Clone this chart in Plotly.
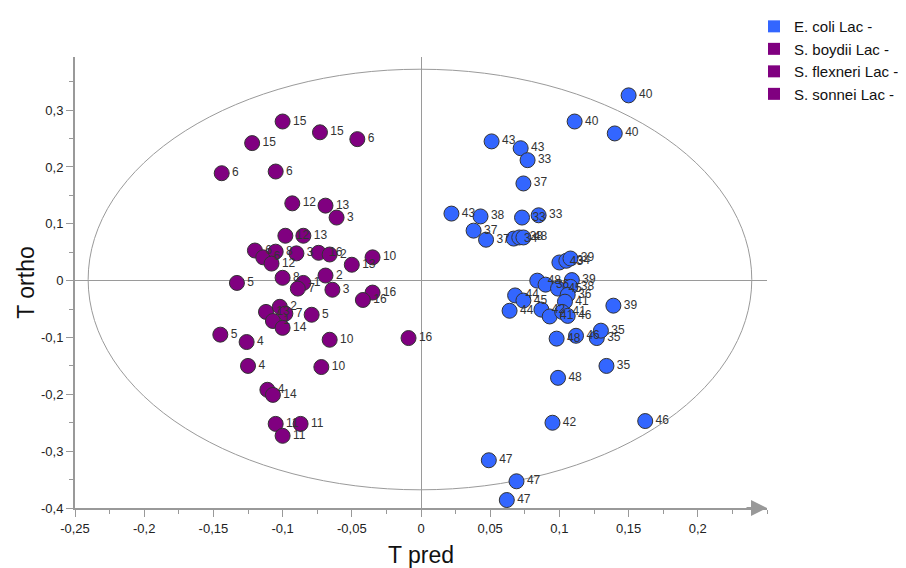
import plotly.graph_objects as go

# ---- data ----
ecoli_x = [0.150, 0.111, 0.140, 0.051, 0.072, 0.077, 0.074, 0.022, 0.043, 0.073,
           0.085, 0.038, 0.047, 0.067, 0.071, 0.074, 0.100, 0.105, 0.108, 0.084,
           0.090, 0.099, 0.109, 0.108, 0.106, 0.104, 0.068, 0.074, 0.064, 0.087,
           0.093, 0.102, 0.106, 0.139, 0.098, 0.112, 0.127, 0.130, 0.134, 0.099,
           0.095, 0.162, 0.049, 0.069, 0.062]
ecoli_y = [0.326, 0.280, 0.259, 0.245, 0.233, 0.212, 0.171, 0.118, 0.113, 0.111,
           0.115, 0.088, 0.072, 0.074, 0.076, 0.076, 0.032, 0.035, 0.039, 0.000,
           -0.007, -0.014, 0.001, -0.011, -0.025, -0.037, -0.026, -0.035, -0.053, -0.051,
           -0.063, -0.055, -0.062, -0.044, -0.102, -0.097, -0.101, -0.088, -0.150, -0.171,
           -0.250, -0.247, -0.316, -0.353, -0.386]
ecoli_lbl = ["40", "40", "40", "43", "43", "33", "37", "43", "38", "33",
             "33", "37", "37", "34", "38", "48", "43", "34", "39", "48",
             "36", "45", "39", "38", "36", "41", "44", "45", "44", "42",
             "41", "41", "46", "39", "48", "46", "35", "35", "35", "48",
             "42", "46", "47", "47", "47"]

shig_x = [-0.100, -0.073, -0.046, -0.122, -0.144, -0.105, -0.093, -0.069, -0.061, -0.098,
          -0.085, -0.120, -0.114, -0.105, -0.108, -0.090, -0.074, -0.066, -0.050, -0.035,
          -0.133, -0.100, -0.085, -0.089, -0.069, -0.064, -0.035, -0.042, -0.112, -0.102,
          -0.098, -0.107, -0.079, -0.100, -0.145, -0.126, -0.066, -0.009, -0.125, -0.072,
          -0.111, -0.107, -0.105, -0.087, -0.100]
shig_y = [0.280, 0.261, 0.249, 0.242, 0.189, 0.192, 0.136, 0.132, 0.111, 0.079,
          0.079, 0.053, 0.041, 0.051, 0.030, 0.048, 0.049, 0.046, 0.028, 0.041,
          -0.004, 0.005, -0.004, -0.014, 0.009, -0.016, -0.021, -0.034, -0.055, -0.046,
          -0.058, -0.071, -0.060, -0.083, -0.095, -0.108, -0.104, -0.101, -0.150, -0.152,
          -0.192, -0.201, -0.252, -0.252, -0.273]
shig_lbl = ["15", "15", "6", "15", "6", "6", "12", "13", "3", "12",
            "13", "6", "6", "8", "12", "3", "16", "2", "13", "10",
            "5", "8", "1", "7", "2", "3", "16", "16", "13", "2",
            "7", "1", "5", "14", "5", "4", "10", "16", "4", "10",
            "4", "14", "11", "11", "11"]

legend_names = ["E. coli Lac -", "S. boydii Lac -", "S. flexneri Lac -", "S. sonnei Lac -"]
legend_colors = ["#3366FF", "#800080", "#800080", "#800080"]

x_ticks = [-0.25, -0.2, -0.15, -0.1, -0.05, 0, 0.05, 0.1, 0.15, 0.2]
x_ticktext = ["-0,25", "-0,2", "-0,15", "-0,1", "-0,05", "0", "0,05", "0,1", "0,15", "0,2"]
y_ticks = [-0.4, -0.3, -0.2, -0.1, 0, 0.1, 0.2, 0.3]
y_ticktext = ["-0,4", "-0,3", "-0,2", "-0,1", "0", "0,1", "0,2", "0,3"]

BLUE = "#3366FF"
PURPLE = "#800080"
FONT = "Liberation Sans, Arial, sans-serif"

fig = go.Figure()

fig.add_trace(go.Scatter(
    x=shig_x, y=shig_y, text=shig_lbl, mode="markers+text",
    textposition="middle right",
    textfont=dict(size=12, color="#333333", family=FONT),
    marker=dict(size=15, color=PURPLE, line=dict(color="#333333", width=1)),
    showlegend=False, cliponaxis=False))

fig.add_trace(go.Scatter(
    x=ecoli_x, y=ecoli_y, text=ecoli_lbl, mode="markers+text",
    textposition="middle right",
    textfont=dict(size=12, color="#333333", family=FONT),
    marker=dict(size=15, color=BLUE, line=dict(color="#333333", width=1)),
    showlegend=False, cliponaxis=False))

for name, col in zip(legend_names, legend_colors):
    fig.add_trace(go.Scatter(
        x=[None], y=[None], mode="markers", name=name,
        marker=dict(symbol="square", size=17, color=col, line=dict(width=0))))

# confidence ellipse
fig.add_shape(type="circle", xref="x", yref="y",
              x0=-0.2405, x1=0.239, y0=-0.368, y1=0.372,
              line=dict(color="#9a9a9a", width=1), layer="below")

# axis arrows
fig.add_annotation(x=0.25, y=-0.4, xref="x", yref="y", ax=-22, ay=0,
                   text="", showarrow=True, arrowhead=2, arrowsize=1.6,
                   arrowwidth=2, arrowcolor="#999999")
fig.add_annotation(x=-0.25, y=0.40, xref="x", yref="y", ax=0, ay=22,
                   text="", showarrow=True, arrowhead=2, arrowsize=1.6,
                   arrowwidth=2, arrowcolor="#999999")

# the page body adds an 8 px offset, so margins are reduced by 8 px on top/left
fig.update_layout(
    width=906, height=560,
    margin=dict(l=67, r=147, t=49, b=60, autoexpand=False),
    paper_bgcolor="white", plot_bgcolor="white",
    font=dict(family=FONT, color="#222222", size=13),
    legend=dict(x=0.9812, y=1.104, xanchor="left", yanchor="top",
                font=dict(size=15, color="#111111", family=FONT),
                bgcolor="rgba(0,0,0,0)", itemsizing="constant"),
    xaxis=dict(range=[-0.25, 0.25], tickmode="array", tickvals=x_ticks, ticktext=x_ticktext,
               automargin=False,
               showgrid=False, zeroline=True, zerolinecolor="#9a9a9a", zerolinewidth=1,
               showline=True, linecolor="#999999", linewidth=2,
               ticks="outside", ticklen=7, tickcolor="#999999", tickwidth=1,
               minor=dict(tickmode="linear", tick0=0, dtick=0.025, ticks="outside",
                          ticklen=4, tickcolor="#999999", showgrid=False),
               tickfont=dict(size=13, color="#222222"),
               title=dict(text="T pred", font=dict(size=23, color="#111111"), standoff=12)),
    yaxis=dict(range=[-0.4, 0.3935], tickmode="array", tickvals=y_ticks, ticktext=y_ticktext,
               automargin=False,
               showgrid=False, zeroline=True, zerolinecolor="#9a9a9a", zerolinewidth=1,
               showline=True, linecolor="#999999", linewidth=2,
               ticks="outside", ticklen=7, tickcolor="#999999", tickwidth=1,
               minor=dict(tickmode="linear", tick0=0, dtick=0.05, ticks="outside",
                          ticklen=4, tickcolor="#999999", showgrid=False),
               tickfont=dict(size=13, color="#222222"),
               title=dict(text="T ortho", font=dict(size=23, color="#111111"), standoff=0)),
)

fig.write_html("out.html")
